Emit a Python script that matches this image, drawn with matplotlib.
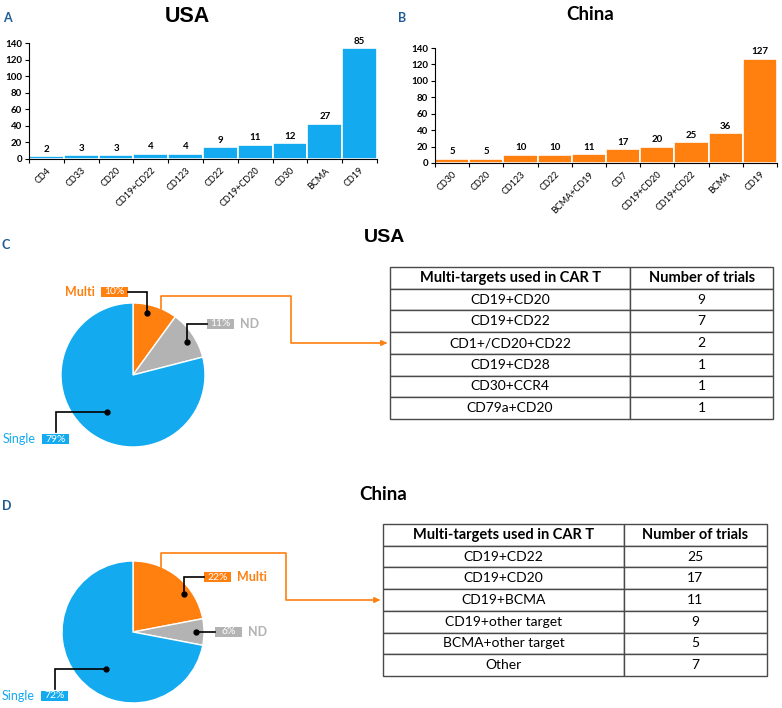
import matplotlib
matplotlib.use("Agg")
import matplotlib.pyplot as plt
from matplotlib.patches import Rectangle
import numpy as np

plt.rcParams['font.family'] = ['Lato', 'DejaVu Sans']

W, H = 782, 708
BLUE = "#13AAEF"
ORANGE = "#FF7F0F"
GRAY = "#B3B3B3"
LETTER = "#1D5C96"

# panel A: bar heights as drawn in the original, labels as printed
usa_targets = ["CD4", "CD33", "CD20", "CD19+CD22", "CD123", "CD22", "CD19+CD20", "CD30", "BCMA", "CD19"]
usa_heights = [3.1, 4.7, 4.7, 6.3, 6.3, 14.1, 17.3, 18.8, 42.4, 133.5]
usa_labels = [2, 3, 3, 4, 4, 9, 11, 12, 27, 85]

# panel B
china_targets = ["CD30", "CD20", "CD123", "CD22", "BCMA+CD19", "CD7", "CD19+CD20", "CD19+CD22", "BCMA", "CD19"]
china_counts = [5, 5, 10, 10, 11, 17, 20, 25, 36, 127]

# panels C and D
pie_names = ["Multi", "ND", "Single"]
pie_colors = [ORANGE, GRAY, BLUE]
usa_share = [10, 11, 79]
china_share = [22, 6, 72]

table_header = ["Multi-targets used in CAR T", "Number of trials"]
usa_multi = ["CD19+CD20", "CD19+CD22", "CD1+/CD20+CD22", "CD19+CD28", "CD30+CCR4", "CD79a+CD20"]
usa_multi_trials = [9, 7, 2, 1, 1, 1]
china_multi = ["CD19+CD22", "CD19+CD20", "CD19+BCMA", "CD19+other target", "BCMA+other target", "Other"]
china_multi_trials = [25, 17, 11, 9, 5, 7]


def px_axes(fig, x0, y0, x1, y1, **kw):
    return fig.add_axes([x0 / W, 1 - y1 / H, (x1 - x0) / W, (y1 - y0) / H], **kw)


def bar_panel(ax, names, heights, labels, color):
    x = np.arange(len(names))
    ax.bar(x, heights, width=1.0, color=color, edgecolor="white", linewidth=1.2)
    for xi, h, lab in zip(x, heights, labels):
        ax.text(xi, h + 3, str(lab), ha="center", va="bottom", fontsize=7, fontweight="bold")
    ax.set_xlim(-0.5, len(names) - 0.5)
    ax.set_ylim(0, 140)
    ax.set_yticks(range(0, 141, 20))
    ax.set_xticks(x)
    ax.set_xticklabels(names, rotation=45, ha="right", rotation_mode="anchor", fontsize=6.5)
    ax.set_xticks(np.arange(-0.5, len(names)), minor=True)
    ax.tick_params(axis="x", which="major", length=0, pad=5)
    ax.tick_params(axis="x", which="minor", length=3, width=0.8)
    ax.tick_params(axis="y", length=3, width=0.8, labelsize=7, pad=2)
    for t in ax.get_yticklabels():
        t.set_fontweight("bold")
    ax.spines[["top", "right"]].set_visible(False)
    ax.set_facecolor("none")


fig = plt.figure(figsize=(W / 100, H / 100), dpi=100)

axA = px_axes(fig, 29, 43, 377, 159)
bar_panel(axA, usa_targets, usa_heights, usa_labels, BLUE)
axB = px_axes(fig, 435, 48, 777, 163)
bar_panel(axB, china_targets, china_counts, china_counts, ORANGE)

ov = fig.add_axes([0, 0, 1, 1], zorder=5)
ov.set_xlim(0, W)
ov.set_ylim(H, 0)
ov.axis("off")
ov.patch.set_visible(False)

ov.text(187, 16, "USA", ha="center", va="center", fontsize=15.5, fontweight="bold", family="Liberation Sans")
ov.text(590, 15, "China", ha="center", va="center", fontsize=13.5, fontweight="bold")
ov.text(385, 237, "USA", ha="center", va="center", fontsize=14, fontweight="bold", family="Liberation Sans")
ov.text(383, 495, "China", ha="center", va="center", fontsize=13.5, fontweight="bold")
for lx, ly, letter in [(3, 18, "A"), (398, 18, "B"), (2, 245, "C"), (2, 506, "D")]:
    ov.text(lx, ly, letter, ha="left", va="center", fontsize=9, fontweight="bold", color=LETTER)


def pie_panel(cx, cy, R, shares, leaders, link):
    ax = px_axes(fig, cx - R, cy - R, cx + R, cy + R)
    ax.pie(shares, colors=pie_colors, startangle=90, counterclock=False,
           wedgeprops=dict(edgecolor="white", linewidth=1))
    ax.set_xlim(-1, 1)
    ax.set_ylim(-1, 1)
    for (name, color, share), (ang, rf, mode, xe, ye, side) in zip(
            zip(pie_names, pie_colors, shares), leaders):
        dx = cx + rf * R * np.cos(np.radians(ang))
        dy = cy - rf * R * np.sin(np.radians(ang))
        if mode == "vh":
            xs, ys = [dx, dx, xe], [dy, ye, ye]
        else:
            xs, ys = [dx, xe, xe], [dy, dy, ye]
        ov.plot(xs, ys, color="black", lw=1.2, solid_joinstyle="miter")
        ov.plot(dx, dy, "o", color="black", ms=3.5)
        # percentage box
        if mode == "vh":
            bx = xe - 27 if side == "left" else xe
            by = ye
        else:
            bx = xe - 14
            by = ye + 7
        ov.add_patch(Rectangle((bx, by - 5), 27, 10, color=color, lw=0))
        ov.text(bx + 13.5, by, f"{share}%", ha="center", va="center", fontsize=7.5, color="white")
        if side == "left":
            ov.text(bx - 6, by, name, ha="right", va="center", fontsize=9,
                    color=color, fontweight="bold" if name != "Single" else "normal")
        else:
            ov.text(bx + 33, by, name, ha="left", va="center", fontsize=9,
                    color=color, fontweight="bold")
    # orange connector to the table
    a0, ytop, xmid, yarr, xend = link
    sx = cx + R * np.cos(np.radians(a0))
    sy = cy - R * np.sin(np.radians(a0))
    ov.plot([sx, sx, xmid, xmid, xend - 6], [sy, ytop, ytop, yarr, yarr], color=ORANGE, lw=1.2)
    ov.annotate("", xy=(xend, yarr), xytext=(xend - 8, yarr),
                arrowprops=dict(arrowstyle="-|>", color=ORANGE, lw=1.2, mutation_scale=8))


pie_panel(133, 375, 72, usa_share,
          [(77, 0.88, "vh", 128, 292, "left"),
           (31, 0.88, "vh", 207, 324, "right"),
           (235, 0.63, "hv", 56, 432, "left")],
          (67, 296, 291, 343, 390))
pie_panel(133, 632, 71, china_share,
          [(37, 0.9, "vh", 204, 577, "right"),
           (0, 0.89, "vh", 215, 632, "right"),
           (234, 0.64, "hv", 55, 689, "left")],
          (67, 553, 286, 600, 383))


def table_panel(x0, y0, x1, y1, names, trials):
    ax = px_axes(fig, x0, y0, x1, y1)
    ax.axis("off")
    rows = [[n, str(t)] for n, t in zip(names, trials)]
    tab = ax.table(cellText=rows, colLabels=table_header, cellLoc="center",
                   bbox=[0, 0, 1, 1], colWidths=[0.627, 0.373])
    tab.auto_set_font_size(False)
    tab.set_fontsize(10)
    for (r, c), cell in tab.get_celld().items():
        cell.set_edgecolor("#4a4a4a")
        cell.set_linewidth(1)
        if r == 0:
            cell.get_text().set_fontweight("bold")
            cell.get_text().set_fontsize(10.5)


table_panel(390, 267, 773, 419, usa_multi, usa_multi_trials)
table_panel(383, 524, 767, 676, china_multi, china_multi_trials)

fig.savefig("out.png", dpi=100)
